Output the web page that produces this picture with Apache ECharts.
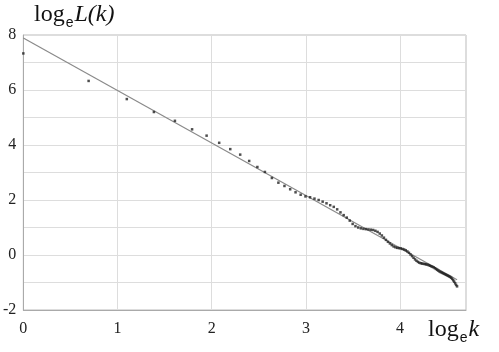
<!DOCTYPE html>
<html><head><meta charset="utf-8">
<script src="https://cdn.jsdelivr.net/npm/echarts@6/dist/echarts.min.js"></script>
<style>html,body{margin:0;padding:0;background:#fff}#c{width:499px;height:352px}</style>
</head><body><div id="c"></div>
<script>
// k = 1..100, observed log_e L(k)
const ks = Array.from({length:100},(_,i)=>i+1);
const logL = [
7.33,6.33,5.67,5.20,4.88,4.57,4.34,4.08,3.85,3.65,
3.42,3.20,3.02,2.80,2.63,2.51,2.39,2.28,2.19,2.13,
2.10,2.05,2.00,1.94,1.88,1.81,1.75,1.66,1.55,1.45,
1.36,1.25,1.13,1.05,1.00,0.97,0.95,0.94,0.93,0.92,
0.91,0.88,0.84,0.78,0.71,0.63,0.55,0.48,0.42,0.36,
0.31,0.28,0.26,0.25,0.24,0.22,0.20,0.17,0.13,0.08,
0.02,-0.04,-0.10,-0.16,-0.21,-0.25,-0.28,-0.30,-0.31,-0.32,
-0.33,-0.34,-0.35,-0.37,-0.39,-0.41,-0.43,-0.45,-0.48,-0.51,
-0.54,-0.57,-0.60,-0.62,-0.64,-0.66,-0.68,-0.70,-0.72,-0.74,
-0.76,-0.78,-0.80,-0.83,-0.87,-0.92,-0.97,-1.03,-1.09,-1.14
];
// fitted line endpoints
const fitX = [0, 4.605];
const fitY = [7.89, -0.90];
const xTicks = [0,1,2,3,4];
const yTicks = [-2,0,2,4,6,8];

const pts = ks.map((k,i)=>[Math.log(k), logL[i]]);
const fit = fitX.map((x,i)=>[x, fitY[i]]);
const serif = '"Liberation Serif","DejaVu Serif",serif';
const chart = echarts.init(document.getElementById('c'));
chart.setOption({
  animation:false,
  grid:{left:22,right:33,top:35,bottom:42,show:true,borderColor:'#bbb',borderWidth:1},
  xAxis:{type:'value',min:0,max:4.7,interval:1,
    axisLine:{show:true,onZero:false,lineStyle:{color:'#aaa'}},axisTick:{show:false},
    splitLine:{show:true,lineStyle:{color:'#ddd',width:1}},
    axisLabel:{margin:11,color:'#222',fontFamily:serif,fontSize:16,
      formatter:v=>xTicks.includes(v)?String(v):''}},
  yAxis:{type:'value',min:-2,max:8,interval:1,
    axisLine:{show:true,onZero:false,lineStyle:{color:'#aaa'}},axisTick:{show:false},
    splitLine:{show:true,lineStyle:{color:'#ddd',width:1}},
    axisLabel:{margin:7,color:'#222',fontFamily:serif,fontSize:16,
      formatter:v=>yTicks.includes(v)?String(v):''}},
  series:[
    {type:'line',data:fit,symbol:'none',lineStyle:{color:'#8a8a8a',width:1.2},z:2},
    {type:'scatter',data:pts,symbol:'rect',symbolSize:2.5,itemStyle:{color:'#222'},z:3}
  ],
  graphic:[
    {type:'text',left:34,top:3,style:{
      text:'{a|log}{s|e}{i|L(k)}',
      rich:{a:{fontFamily:serif,fontSize:24,fill:'#111'},
            s:{fontFamily:'"Liberation Sans",Arial,sans-serif',fontSize:14,fill:'#111',padding:[16,1,0,1]},
            i:{fontFamily:serif,fontStyle:'italic',fontSize:24,fill:'#111'}}}},
    {type:'text',left:428,top:318,style:{
      text:'{a|log}{s|e}{i|k}',
      rich:{a:{fontFamily:serif,fontSize:24,fill:'#111'},
            s:{fontFamily:'"Liberation Sans",Arial,sans-serif',fontSize:14,fill:'#111',padding:[16,1,0,1]},
            i:{fontFamily:serif,fontStyle:'italic',fontSize:24,fill:'#111'}}}}
  ]
});
</script></body></html>
